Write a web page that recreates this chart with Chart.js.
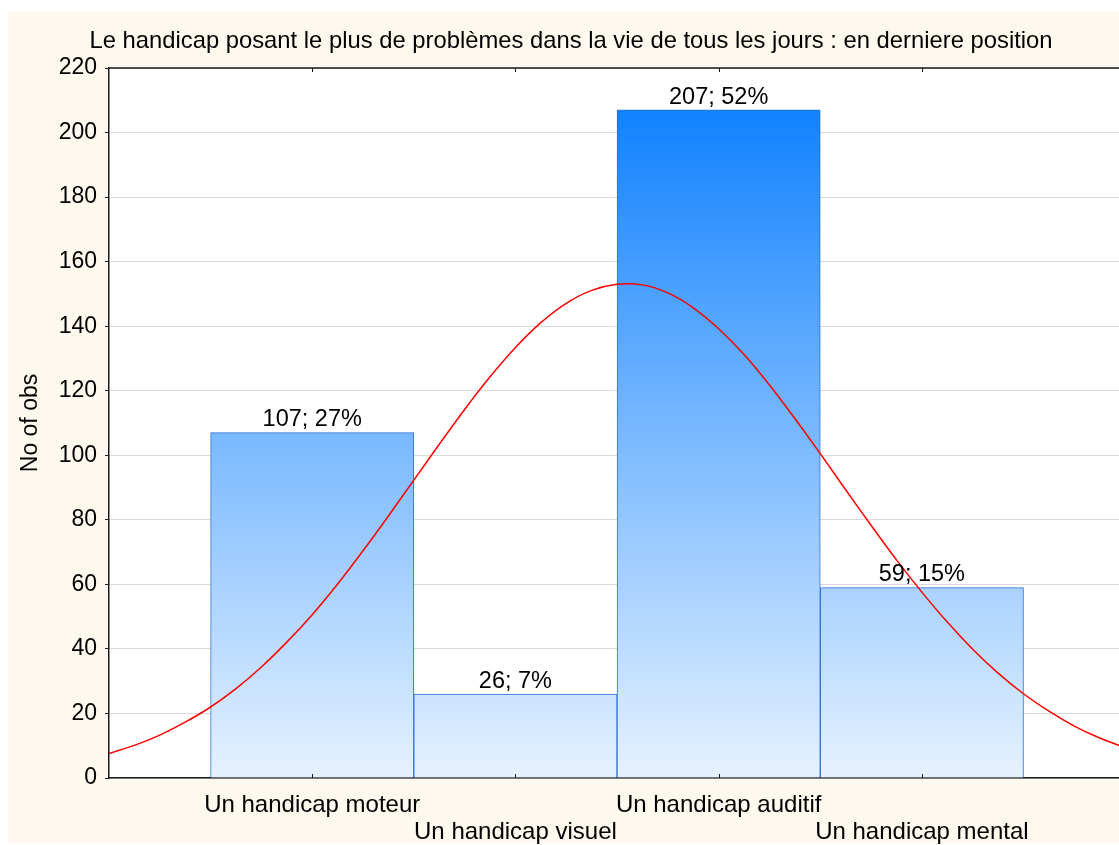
<!DOCTYPE html>
<html>
<head>
<meta charset="utf-8">
<title>Le handicap posant le plus de problèmes</title>
<script src="https://cdn.jsdelivr.net/npm/chart.js@4.4.1/dist/chart.umd.min.js"></script>
<style>
  html, body { margin: 0; padding: 0; background: #ffffff; overflow: hidden; }
  #cream { position: absolute; left: 8px; top: 11px; width: 1111px; height: 832px; background: #fdf9ee; }
  #wrap { position: absolute; left: 0; top: 0; width: 1119px; height: 845px; }
</style>
</head>
<body>
<div id="cream"></div>
<div id="wrap"><canvas id="chart"></canvas></div>
<script>
// Données
const categories = ['Un handicap moteur', 'Un handicap visuel', 'Un handicap auditif', 'Un handicap mental'];
const counts = [107, 26, 207, 59];
const percents = [27, 7, 52, 15];

// Courbe normale (rouge), lue point par point
const curveX = [0, 0.125, 0.25, 0.375, 0.5, 0.625, 0.75, 0.875, 1, 1.125, 1.25, 1.375, 1.5, 1.625, 1.75, 1.875,
    2, 2.125, 2.25, 2.375, 2.5, 2.625, 2.75, 2.875, 3, 3.125, 3.25, 3.375, 3.5, 3.625, 3.75, 3.875,
    4, 4.125, 4.25, 4.375, 4.5, 4.625, 4.75, 4.875, 5];
const curveY = [7.6, 10.1, 13.3, 17.3, 22.0, 27.7, 34.4, 42.1, 50.6, 60.1, 70.4, 81.2, 92.3, 103.4, 114.2, 124.3,
    133.4, 141.1, 147.1, 151.1, 153.0, 152.8, 150.3, 145.7, 139.2, 131.2, 121.8, 111.4, 100.5, 89.3, 78.3, 67.6,
    57.6, 48.3, 39.9, 32.5, 26.1, 20.7, 16.1, 12.4, 9.4];

const yTicks = [0, 20, 40, 60, 80, 100, 120, 140, 160, 180, 200, 220];

const titleText = 'Le handicap posant le plus de problèmes dans la vie de tous les jours : en derniere position';
const FONT = "'Liberation Sans', Arial, sans-serif";

Chart.defaults.font.family = FONT;
Chart.defaults.color = '#000';

// Fond blanc de la zone de tracé + titre
const backgroundPlugin = {
    id: 'backgroundPlugin',
    beforeDraw(chart) {
        const { ctx, chartArea } = chart;
        ctx.save();
        ctx.fillStyle = '#ffffff';
        ctx.fillRect(chartArea.left, chartArea.top, chartArea.right - chartArea.left, chartArea.bottom - chartArea.top);
        ctx.fillStyle = '#000';
        ctx.font = '23.8px ' + FONT;
        ctx.textAlign = 'center';
        ctx.textBaseline = 'middle';
        ctx.fillText(titleText, 571, 41);
        ctx.restore();
    }
};

// Étiquettes "n; p%" au-dessus des barres, bordure du haut et graduations internes
const labelsPlugin = {
    id: 'labelsPlugin',
    afterDatasetsDraw(chart) {
        const { ctx } = chart;
        const meta = chart.getDatasetMeta(0);
        ctx.save();
        ctx.fillStyle = '#000';
        ctx.font = '23.5px ' + FONT;
        ctx.textAlign = 'center';
        ctx.textBaseline = 'bottom';
        meta.data.forEach((bar, i) => {
            ctx.fillText(counts[i] + '; ' + percents[i] + '%', bar.x, bar.y - 1);
        });
        ctx.restore();
    },
    afterDraw(chart) {
        const { ctx, chartArea, scales } = chart;
        ctx.save();
        ctx.strokeStyle = '#1a1a1a';
        ctx.lineWidth = 1.5;
        ctx.beginPath();
        ctx.moveTo(chartArea.left, chartArea.top);
        ctx.lineTo(chartArea.right, chartArea.top);
        ctx.stroke();
        ctx.lineWidth = 1;
        scales.x.ticks.forEach(t => {
            const px = Math.round(scales.x.getPixelForValue(t.value)) + 0.5;
            ctx.beginPath();
            ctx.moveTo(px, chartArea.bottom);
            ctx.lineTo(px, chartArea.bottom - 4);
            ctx.moveTo(px, chartArea.top);
            ctx.lineTo(px, chartArea.top + 4);
            ctx.stroke();
        });
        ctx.restore();
    }
};

function barGradient(context) {
    const chart = context.chart;
    const { chartArea, scales } = chart;
    if (!chartArea) return '#7db9ff';
    const g = chart.ctx.createLinearGradient(0, scales.y.getPixelForValue(207), 0, scales.y.getPixelForValue(0));
    g.addColorStop(0, '#1282ff');
    g.addColorStop(1, '#e6f2ff');
    return g;
}

const ctx = document.getElementById('chart').getContext('2d');
new Chart(ctx, {
    type: 'bar',
    data: {
        datasets: [
            {
                type: 'bar',
                data: counts.map((v, i) => ({ x: i + 1, y: v })),
                backgroundColor: barGradient,
                borderColor: '#2f6fd6',
                borderWidth: 1,
                barPercentage: 1,
                categoryPercentage: 1,
                order: 1
            },
            {
                type: 'line',
                data: curveX.map((x, i) => ({ x: x, y: curveY[i] })),
                borderColor: '#ff0000',
                borderWidth: 1.5,
                pointRadius: 0,
                tension: 0.3,
                fill: false,
                order: 0
            }
        ]
    },
    options: {
        responsive: true,
        maintainAspectRatio: false,
        animation: false,
        layout: { padding: { top: 68, left: 0, right: 0, bottom: 0 } },
        plugins: {
            legend: { display: false },
            tooltip: { enabled: false },
            title: { display: false }
        },
        scales: {
            x: {
                type: 'linear',
                min: 0,
                max: 4.97,
                offset: false,
                afterBuildTicks(scale) {
                    scale.ticks = categories.map((c, i) => ({ value: i + 1 }));
                },
                afterFit(scale) {
                    scale.height = 67;
                },
                grid: { display: true, color: 'rgba(0,0,0,0)', drawTicks: false, offset: false },
                border: { display: true, color: '#1a1a1a', width: 1.5 },
                ticks: {
                    autoSkip: false,
                    maxRotation: 0,
                    padding: 13.5,
                    font: { size: 24, lineHeight: 1.125 },
                    color: '#000',
                    callback(value, index) {
                        const label = categories[index];
                        return index % 2 === 0 ? [label] : ['', label];
                    }
                }
            },
            y: {
                min: 0,
                max: 220,
                afterBuildTicks(scale) {
                    scale.ticks = yTicks.map(v => ({ value: v }));
                },
                afterFit(scale) {
                    scale.width = 109;
                },
                grid: { color: '#d9d9d9', lineWidth: 1, drawTicks: true, tickLength: 4, tickColor: '#1a1a1a' },
                border: { display: true, color: '#1a1a1a', width: 1.5 },
                ticks: {
                    padding: 8,
                    font: { size: 23 },
                    color: '#000'
                },
                title: {
                    display: true,
                    text: 'No of obs',
                    font: { size: 23 },
                    color: '#000',
                    padding: { top: 17, bottom: 0 }
                }
            }
        }
    },
    plugins: [backgroundPlugin, labelsPlugin]
});
</script>
</body>
</html>
